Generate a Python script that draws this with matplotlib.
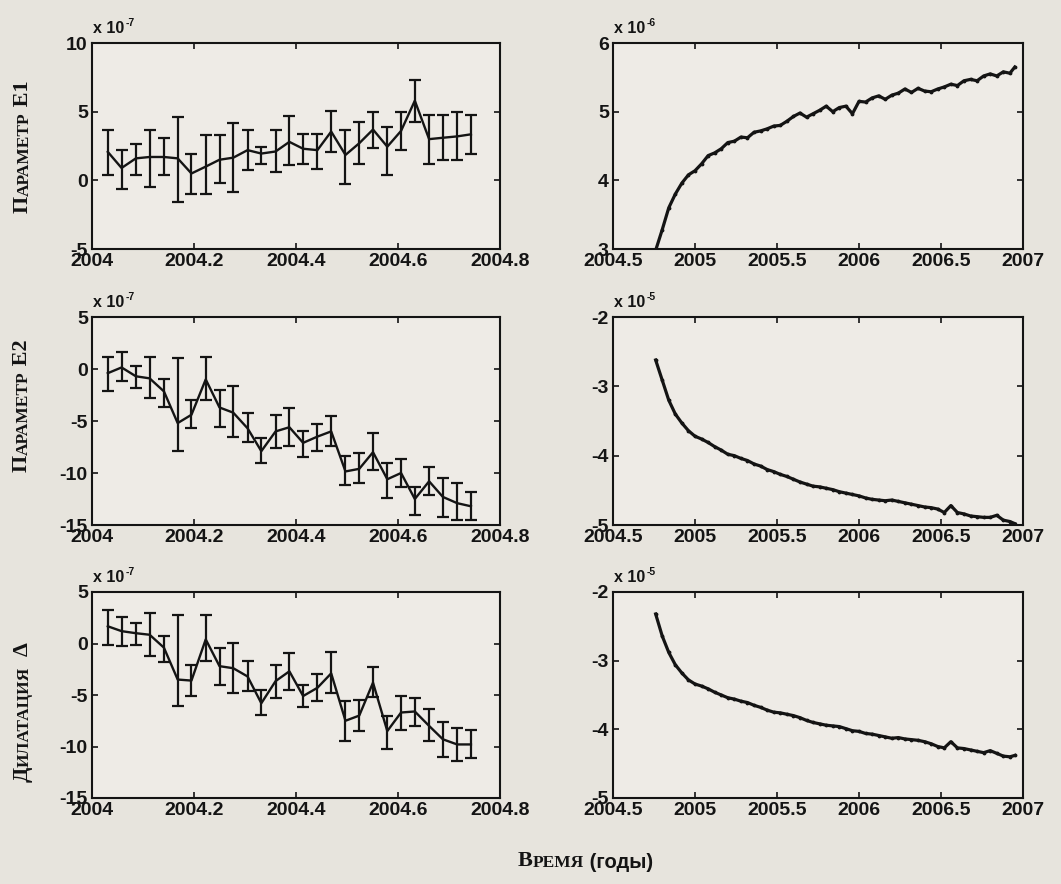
import matplotlib
matplotlib.use("Agg")
import matplotlib.pyplot as plt
import numpy as np

plt.rcParams["font.family"] = ["Liberation Sans", "DejaVu Sans"]
plt.rcParams["font.weight"] = "bold"
plt.rcParams["axes.unicode_minus"] = False

# ---- short series (10-day solutions, units of 1e-7) ----
t_short = [2004.031, 2004.058, 2004.086, 2004.113, 2004.141, 2004.168, 2004.195,
           2004.223, 2004.250, 2004.277, 2004.305, 2004.332, 2004.360, 2004.387,
           2004.414, 2004.442, 2004.469, 2004.497, 2004.524, 2004.551, 2004.579,
           2004.606, 2004.633, 2004.661, 2004.688, 2004.716, 2004.743]

e1_short = [2.07, 0.9, 1.6, 1.7, 1.7, 1.6, 0.5, 1.0, 1.5, 1.65, 2.2, 1.95, 2.1, 2.8,
            2.3, 2.2, 3.55, 1.85, 2.7, 3.7, 2.45, 3.6, 5.8, 3.0, 3.1, 3.2, 3.35]
e1_upper = [3.66, 2.2, 2.68, 3.66, 3.05, 4.6, 1.95, 3.3, 3.3, 4.15, 3.66, 2.44, 3.66, 4.68,
            3.4, 3.4, 5.07, 3.66, 4.27, 5.0, 3.9, 5.0, 7.3, 4.76, 4.76, 5.0, 4.76]
e1_lower = [0.37, -0.6, 0.37, -0.5, 0.37, -1.6, -0.97, -0.97, -0.2, -0.85, 0.73, 1.22, 0.6, 1.1,
            1.2, 0.86, 2.07, -0.24, 1.22, 2.32, 0.37, 2.2, 4.27, 1.22, 1.46, 1.46, 1.95]

e2_short = [-0.4, 0.15, -0.7, -0.9, -2.15, -5.2, -4.4, -1.0, -3.7, -4.2, -5.7, -7.9, -6.0, -5.6,
            -7.1, -6.5, -6.0, -9.85, -9.6, -8.0, -10.6, -10.0, -12.5, -10.8, -12.3, -12.9, -13.2]
e2_upper = [1.15, 1.6, 0.25, 1.15, -1.0, 1.1, -2.95, 1.2, -2.0, -1.67, -4.2, -6.6, -4.4, -3.75,
            -6.0, -5.3, -4.55, -8.4, -8.1, -6.2, -9.0, -8.7, -11.3, -9.4, -10.5, -11.0, -11.8]
e2_lower = [-2.15, -1.2, -1.8, -2.8, -3.66, -7.9, -5.65, -2.95, -5.55, -6.5, -7.0, -9.05, -7.6, -7.45,
            -8.5, -7.9, -7.45, -11.2, -11.0, -9.7, -12.4, -11.3, -14.0, -12.1, -14.2, -14.5, -14.5]

dil_short = [1.67, 1.2, 1.0, 0.85, -0.4, -3.5, -3.6, 0.4, -2.2, -2.4, -3.2, -5.8, -3.65, -2.7,
             -5.1, -4.3, -2.9, -7.5, -7.0, -3.8, -8.5, -6.7, -6.6, -8.0, -9.3, -9.8, -9.8]
dil_upper = [3.3, 2.57, 2.0, 2.95, 0.7, 2.8, -2.05, 2.8, -0.4, 0.05, -1.73, -4.5, -2.05, -0.9,
             -4.0, -3.0, -0.8, -5.6, -5.45, -2.3, -7.0, -5.05, -5.3, -6.4, -7.6, -8.2, -8.4]
dil_lower = [-0.1, -0.2, -0.1, -1.25, -1.75, -6.1, -5.1, -1.73, -4.0, -4.8, -4.64, -6.9, -5.25, -4.5,
             -6.2, -5.6, -4.8, -9.5, -8.5, -5.2, -10.2, -8.4, -8.0, -9.5, -11.0, -11.4, -11.1]

# ---- long series (accumulated solution) ----
t_long = [2004.76, 2004.80, 2004.84, 2004.88, 2004.92, 2004.96, 2005.00, 2005.04,
          2005.08, 2005.12, 2005.16, 2005.20, 2005.24, 2005.28, 2005.32, 2005.36,
          2005.40, 2005.44, 2005.48, 2005.52, 2005.56, 2005.60, 2005.64, 2005.68,
          2005.72, 2005.76, 2005.80, 2005.84, 2005.88, 2005.92, 2005.96, 2006.00,
          2006.04, 2006.08, 2006.12, 2006.16, 2006.20, 2006.24, 2006.28, 2006.32,
          2006.36, 2006.40, 2006.44, 2006.48, 2006.52, 2006.56, 2006.60, 2006.64,
          2006.68, 2006.72, 2006.76, 2006.80, 2006.84, 2006.88, 2006.92, 2006.95]

# units of 1e-6
e1_long = [2.98, 3.28, 3.60, 3.80, 3.96, 4.08, 4.14, 4.24, 4.36, 4.40, 4.46, 4.55, 4.57, 4.63,
           4.62, 4.70, 4.72, 4.75, 4.79, 4.80, 4.86, 4.93, 4.98, 4.92, 4.97, 5.02, 5.08, 5.00,
           5.06, 5.08, 4.97, 5.15, 5.14, 5.20, 5.23, 5.18, 5.24, 5.27, 5.33, 5.28, 5.34, 5.30,
           5.29, 5.33, 5.36, 5.40, 5.38, 5.45, 5.47, 5.45, 5.52, 5.55, 5.52, 5.58, 5.56, 5.65]
# units of 1e-5
e2_long = [-2.62, -2.91, -3.20, -3.40, -3.53, -3.64, -3.72, -3.76, -3.81, -3.87, -3.92, -3.98,
           -4.00, -4.04, -4.07, -4.12, -4.15, -4.20, -4.23, -4.27, -4.30, -4.34, -4.38, -4.41,
           -4.44, -4.45, -4.47, -4.49, -4.52, -4.54, -4.56, -4.58, -4.61, -4.63, -4.64, -4.65,
           -4.64, -4.66, -4.68, -4.70, -4.72, -4.74, -4.75, -4.77, -4.82, -4.72, -4.82, -4.84,
           -4.87, -4.88, -4.89, -4.89, -4.86, -4.93, -4.95, -4.98]
dil_long = [-2.32, -2.64, -2.88, -3.06, -3.18, -3.28, -3.34, -3.37, -3.41, -3.46, -3.50, -3.54,
            -3.56, -3.59, -3.61, -3.65, -3.68, -3.72, -3.75, -3.76, -3.78, -3.80, -3.83, -3.87,
            -3.90, -3.92, -3.94, -3.95, -3.96, -3.99, -4.02, -4.03, -4.06, -4.07, -4.09, -4.11,
            -4.13, -4.12, -4.14, -4.15, -4.16, -4.18, -4.21, -4.25, -4.27, -4.18, -4.27, -4.28,
            -4.30, -4.32, -4.34, -4.31, -4.35, -4.39, -4.40, -4.38]

xticks_short = [2004, 2004.2, 2004.4, 2004.6, 2004.8]
xlabels_short = ["2004", "2004.2", "2004.4", "2004.6", "2004.8"]
xticks_long = [2004.5, 2005, 2005.5, 2006, 2006.5, 2007]
xlabels_long = ["2004.5", "2005", "2005.5", "2006", "2006.5", "2007"]

yticks_e1s = [-5, 0, 5, 10]
yticks_s = [-15, -10, -5, 0, 5]
yticks_e1l = [3, 4, 5, 6]
yticks_l = [-5, -4, -3, -2]

row_labels = [("П", "АРАМЕТР", " E1"), ("П", "АРАМЕТР", " E2"), ("Д", "ИЛАТАЦИЯ", "  Δ")]

INK = "#141414"
PAPER = "#e7e4dd"
PANEL = "#eeebe6"
SERIF = ["Liberation Serif", "DejaVu Serif"]

fig = plt.figure(figsize=(10.61, 8.84), dpi=100, facecolor=PAPER)

W, H = 1061.0, 884.0
col_x = [(92, 500), (613, 1023)]
row_y = [(43, 249), (317, 525), (592, 798)]


def make_ax(col, row):
    x0, x1 = col_x[col]
    y0, y1 = row_y[row]
    ax = fig.add_axes([x0 / W, 1 - y1 / H, (x1 - x0) / W, (y1 - y0) / H])
    ax.set_facecolor(PANEL)
    for s in ax.spines.values():
        s.set_linewidth(1.5)
        s.set_color(INK)
    ax.tick_params(direction="in", top=True, right=True, length=4, width=1.2,
                   labelsize=14, colors=INK, pad=3)
    return ax


def exponent(ax, power):
    base = ax.annotate("x 10", xy=(0, 1), xycoords="axes fraction", xytext=(1, 5),
                       textcoords="offset points", ha="left", va="bottom",
                       fontsize=11.5, color=INK)
    ax.annotate(power, xy=(1, 1), xycoords=base, xytext=(0.5, -5),
                textcoords="offset points", ha="left", va="bottom",
                fontsize=7.5, color=INK)


short_sets = [(e1_short, e1_lower, e1_upper, (-5, 10), yticks_e1s, "-7"),
              (e2_short, e2_lower, e2_upper, (-15, 5), yticks_s, "-7"),
              (dil_short, dil_lower, dil_upper, (-15, 5), yticks_s, "-7")]
long_sets = [(e1_long, (3, 6), yticks_e1l, "-6"),
             (e2_long, (-5, -2), yticks_l, "-5"),
             (dil_long, (-5, -2), yticks_l, "-5")]

for r, (vals, lo, hi, ylim, yt, pw) in enumerate(short_sets):
    ax = make_ax(0, r)
    v = np.array(vals)
    yerr = np.vstack([v - np.array(lo), np.array(hi) - v])
    ax.errorbar(t_short, v, yerr=yerr, color=INK, lw=1.7, elinewidth=1.6,
                capsize=4.0, capthick=1.6)
    ax.set_xlim(2004, 2004.8)
    ax.set_ylim(*ylim)
    ax.set_xticks(xticks_short)
    ax.set_xticklabels(xlabels_short)
    ax.set_yticks(yt)
    ax.set_yticklabels([str(t) for t in yt])
    exponent(ax, pw)

for r, (vals, ylim, yt, pw) in enumerate(long_sets):
    ax = make_ax(1, r)
    ax.plot(t_long, vals, color=INK, lw=2.3, marker=".", ms=3.5)
    ax.set_xlim(2004.5, 2007)
    ax.set_ylim(*ylim)
    ax.set_xticks(xticks_long)
    ax.set_xticklabels(xlabels_long)
    ax.set_yticks(yt)
    ax.set_yticklabels([str(t) for t in yt])
    exponent(ax, pw)

anchor_ax = fig.axes[0]


def caps_label_vertical(x_px, y_bottom_px, parts):
    """Small-caps style label reading bottom to top."""
    first, small, tail = parts
    t = fig.text(x_px / W, 1 - y_bottom_px / H, first, rotation=90, ha="right",
                 va="bottom", fontsize=16, family=SERIF, weight="bold", color=INK)
    t2 = anchor_ax.annotate(small, xy=(1, 1), xycoords=t, rotation=90,
                            ha="right", va="bottom", fontsize=12.5,
                            family=SERIF, weight="bold", color=INK,
                            annotation_clip=False)
    anchor_ax.annotate(tail, xy=(1, 1), xycoords=t2, rotation=90,
                       ha="right", va="bottom", fontsize=16,
                       family=SERIF, weight="bold", color=INK,
                       annotation_clip=False)


caps_label_vertical(33, 213, row_labels[0])
caps_label_vertical(32, 472, row_labels[1])
caps_label_vertical(33, 782, row_labels[2])

# common time-axis caption
tb = fig.text(518 / W, 1 - 871 / H, "В", ha="left", va="bottom", fontsize=16,
              family=SERIF, weight="bold", color=INK)
tb2 = anchor_ax.annotate("РЕМЯ", xy=(1, 0), xycoords=tb, ha="left", va="bottom",
                         fontsize=12.5, family=SERIF, weight="bold", color=INK,
                         annotation_clip=False)
anchor_ax.annotate(" (годы)", xy=(1, 0), xycoords=tb2, xytext=(0, -1),
                   textcoords="offset points", ha="left", va="bottom",
                   fontsize=14.5, weight="bold", color=INK, annotation_clip=False)

fig.savefig("out.png", dpi=100, facecolor=PAPER)
